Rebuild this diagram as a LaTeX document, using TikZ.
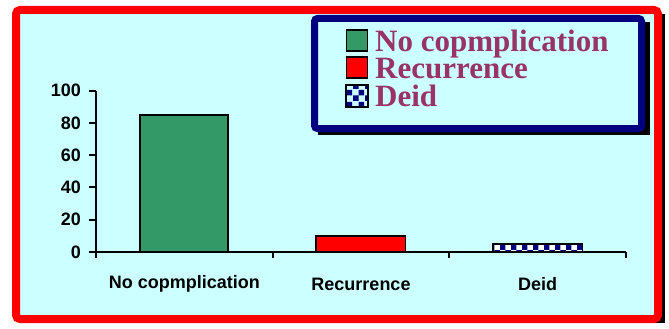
\documentclass[tikz,border=0pt]{standalone}
\usepackage{fontspec}
\setmainfont{Liberation Serif}
\setsansfont{Liberation Sans}
\usetikzlibrary{patterns}
\definecolor{bgcyan}{HTML}{CCFFFF}
\definecolor{barGreen}{HTML}{339966}
\definecolor{legText}{HTML}{993366}
\definecolor{navyB}{HTML}{000080}
\begin{document}
\begin{tikzpicture}[x=1pt,y=-1pt,
  legmark/.style={draw=black, line width=1.5pt, minimum size=21pt, inner sep=0pt},
  legtext/.style={text=legText, font=\fontsize{31}{31}\selectfont\bfseries, inner sep=0pt, anchor=base west},
  barbox/.style={draw=black, line width=1.5pt},
  axisline/.style={line width=2pt, black},
  ticklab/.style={font=\sffamily\bfseries\fontsize{18}{18}\selectfont, inner sep=0pt, anchor=east},
  catlab/.style={font=\sffamily\bfseries\fontsize{18}{18}\selectfont, inner sep=0pt}]
\useasboundingbox (0,0) rectangle (669,329);
% outer frame with shadow
\fill[black] (20,14) rectangle (665,323);
\draw[red, line width=8pt, fill=bgcyan, rounded corners=4pt] (16,10) rectangle (658,319);
% legend
\fill[black] (318,22) rectangle (650,135);
\draw[navyB, line width=7pt, fill=bgcyan, rounded corners=3pt] (314.5,18.5) rectangle (641.5,128.5);
\node[legmark, fill=barGreen] (m1) at (357,40.5) {};
\node[legmark, fill=red] (m2) at (357,67.5) {};
\node[legmark, fill=white, pattern=checkerboard, pattern color=navyB] (m3) at (357,96) {};
\draw[black, line width=1.5pt] (m3.south west) rectangle (m3.north east);
\node[legtext] (l1) at (375,52) {No copmplication};
\node[legtext] (l2) at (375,78) {Recurrence};
\node[legtext] (l3) at (375,106) {Deid};
% bars
\draw[barbox, fill=barGreen] (140,252) rectangle (228,114.9);
\draw[barbox, fill=red] (316,252) rectangle (405.5,235.9);
\fill[white] (493,252) rectangle (582.5,243.9);
\fill[pattern=checkerboard, pattern color=navyB] (493,252) rectangle (582.5,243.9);
\draw[barbox] (493,252) rectangle (582.5,243.9);
% axes
\draw[axisline] (96,90.7) -- (96,258);
\draw[axisline] (89,252) -- (626,252);
\foreach \v in {0,20,40,60,80,100}{
  \draw[axisline] (89,{252-\v*1.613}) -- (96,{252-\v*1.613});
  \node[ticklab] (t\v) at (81,{252-\v*1.613}) {\v};
}
\foreach \xx in {272.7,449.3,626}{
  \draw[axisline] (\xx,252) -- (\xx,258);
}
\node[catlab] (c1) at (184.3,284) {No copmplication};
\node[catlab] (c2) at (361,284) {Recurrence};
\node[catlab] (c3) at (537.7,284) {Deid};
\end{tikzpicture}
\end{document}
